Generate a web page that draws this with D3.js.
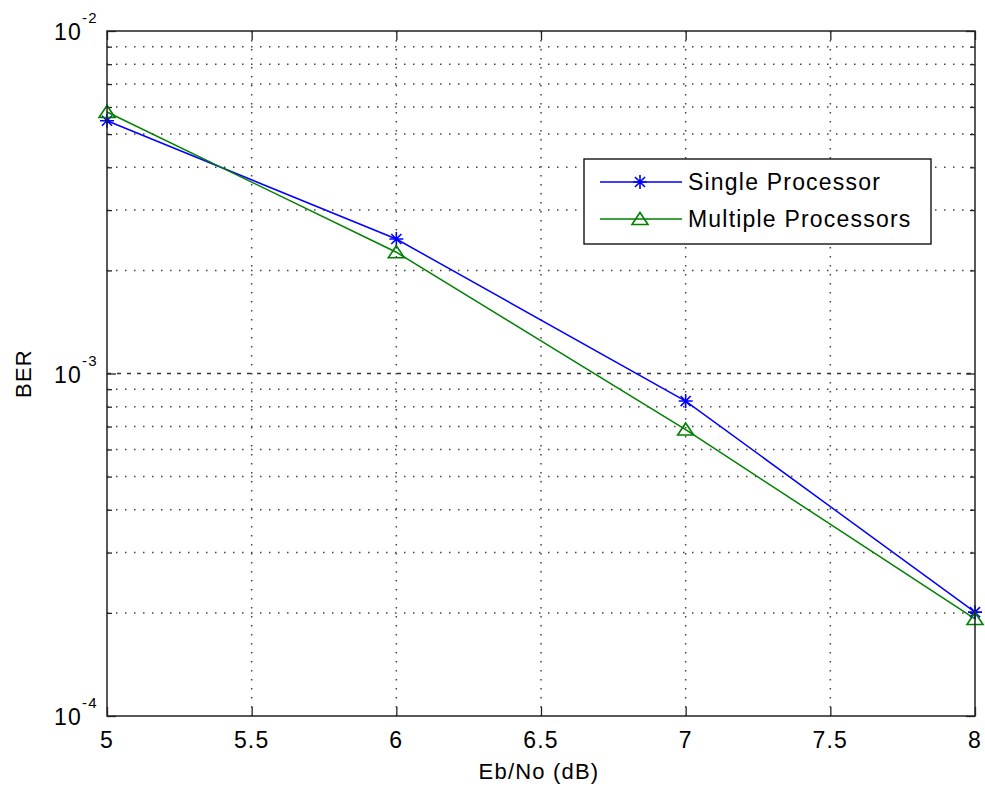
<!DOCTYPE html>
<html>
<head>
<meta charset="utf-8">
<script src="https://cdn.jsdelivr.net/npm/d3@7"></script>
<style>
  html, body { margin: 0; padding: 0; background: #fff; }
  text { font-family: "Liberation Sans", Arial, Helvetica, sans-serif; fill: #000; letter-spacing: 1.2px; }
</style>
</head>
<body>
<svg id="chart" width="985" height="787"></svg>
<script>
// ---- data ----
const ebno = [5, 6, 7, 8];
const berSingle = [5.47e-3, 2.47e-3, 8.31e-4, 2.01e-4];
const berMultiple = [5.80e-3, 2.26e-3, 6.86e-4, 1.92e-4];
const xTicks = [5, 5.5, 6, 6.5, 7, 7.5, 8];
const yMajor = [1e-4, 1e-3, 1e-2];
const yExponents = ["-4", "-3", "-2"];
const yMinor = [2e-4,3e-4,4e-4,5e-4,6e-4,7e-4,8e-4,9e-4,2e-3,3e-3,4e-3,5e-3,6e-3,7e-3,8e-3,9e-3];
const seriesNames = ["Single Processor", "Multiple Processors"];

// ---- layout ----
const L = 107, T = 31, W = 868, H = 685;
const svg = d3.select("#chart");
svg.append("rect").attr("width", 985).attr("height", 787).attr("fill", "#fff");

const x = d3.scaleLinear().domain([5, 8]).range([L, L + W]);
const y = d3.scaleLog().domain([1e-4, 1e-2]).range([T + H, T]);

const grid = svg.append("g");
grid.selectAll("line.vx").data(xTicks.filter(d => d > 5 && d < 8)).enter().append("line")
  .attr("x1", d => x(d)).attr("x2", d => x(d)).attr("y1", T).attr("y2", T + H)
  .attr("stroke", "#444").attr("stroke-width", 1.5).attr("stroke-dasharray", "1.5,7.5");
grid.selectAll("line.hy").data(yMinor).enter().append("line")
  .attr("x1", L).attr("x2", L + W).attr("y1", d => y(d)).attr("y2", d => y(d))
  .attr("stroke", "#444").attr("stroke-width", 1.5).attr("stroke-dasharray", "1.5,7.5");
grid.selectAll("line.hm").data(yMajor.slice(1, 2)).enter().append("line")
  .attr("x1", L).attr("x2", L + W).attr("y1", d => y(d)).attr("y2", d => y(d))
  .attr("stroke", "#333").attr("stroke-width", 1.5).attr("stroke-dasharray", "4,6");

// ---- axes ticks ----
const tickStyle = g => { g.select(".domain").remove(); g.selectAll(".tick line").attr("stroke", "#222").attr("stroke-width", 1.3); g.selectAll(".tick text").remove(); };
svg.append("g").attr("transform", `translate(0,${T + H})`)
  .call(d3.axisBottom(x).tickValues(xTicks).tickSizeInner(-9).tickSizeOuter(0)).call(tickStyle);
svg.append("g").attr("transform", `translate(0,${T})`)
  .call(d3.axisTop(x).tickValues(xTicks).tickSizeInner(-9).tickSizeOuter(0)).call(tickStyle);
svg.append("g").attr("transform", `translate(${L},0)`)
  .call(d3.axisLeft(y).tickValues(yMajor).tickSizeInner(-9).tickSizeOuter(0)).call(tickStyle);
svg.append("g").attr("transform", `translate(${L},0)`)
  .call(d3.axisLeft(y).tickValues(yMinor).tickSizeInner(-5).tickSizeOuter(0)).call(tickStyle);
svg.append("g").attr("transform", `translate(${L + W},0)`)
  .call(d3.axisRight(y).tickValues(yMajor).tickSizeInner(-9).tickSizeOuter(0)).call(tickStyle);
svg.append("g").attr("transform", `translate(${L + W},0)`)
  .call(d3.axisRight(y).tickValues(yMinor).tickSizeInner(-5).tickSizeOuter(0)).call(tickStyle);

// tick labels
svg.append("g").selectAll("text").data(xTicks).enter().append("text")
  .attr("x", d => x(d)).attr("y", T + H + 32).attr("text-anchor", "middle")
  .attr("font-size", 23).text(d => d3.format("~g")(d));
const yl = svg.append("g").selectAll("g").data(yMajor).enter().append("g")
  .attr("transform", (d) => `translate(0,${y(d)})`);
yl.append("text").attr("x", 82).attr("y", 9).attr("text-anchor", "end").attr("font-size", 23).text("10");
yl.append("text").attr("x", 82).attr("y", -8).attr("font-size", 15).text((d, i) => yExponents[i]);

// axis labels
svg.append("text").attr("x", 539).attr("y", 779).attr("text-anchor", "middle").attr("font-size", 22).text("Eb/No (dB)");
svg.append("text").attr("transform", `translate(31,${T + H / 2}) rotate(-90)`).attr("text-anchor", "middle").attr("font-size", 22).text("BER");

// ---- series ----
const line = d3.line().x((d, i) => x(ebno[i])).y(d => y(d));
const starPath = r => { const a = r * 0.72; return `M${-r},0L${r},0M0,${-r}L0,${r}M${-a},${-a}L${a},${a}M${-a},${a}L${a},${-a}`; };
const triPath = "M0,-6.5L8,5.5L-8,5.5Z";

svg.append("path").datum(berSingle).attr("d", line).attr("fill", "none").attr("stroke", "#0000ff").attr("stroke-width", 1.5);
svg.append("path").datum(berMultiple).attr("d", line).attr("fill", "none").attr("stroke", "#008000").attr("stroke-width", 1.5);
svg.append("g").selectAll("path").data(berSingle).enter().append("path")
  .attr("transform", (d, i) => `translate(${x(ebno[i])},${y(d)})`).attr("d", starPath(7))
  .attr("stroke", "#0000ff").attr("stroke-width", 1.6).attr("fill", "none");
svg.append("g").selectAll("path").data(berMultiple).enter().append("path")
  .attr("transform", (d, i) => `translate(${x(ebno[i])},${y(d)})`).attr("d", triPath)
  .attr("stroke", "#008000").attr("stroke-width", 1.6).attr("fill", "none");

// axes frame
svg.append("rect").attr("x", L).attr("y", T).attr("width", W).attr("height", H)
  .attr("fill", "none").attr("stroke", "#222").attr("stroke-width", 1.5);

// ---- legend ----
const lg = svg.append("g").attr("transform", "translate(584,159)");
lg.append("rect").attr("width", 347).attr("height", 85).attr("fill", "#fff").attr("stroke", "#000").attr("stroke-width", 1.3);
const colors = ["#0000ff", "#008000"];
const rowsY = [23, 60];
seriesNames.forEach((name, i) => {
  const g = lg.append("g").attr("transform", `translate(0,${rowsY[i]})`);
  g.append("line").attr("x1", 16).attr("x2", 98).attr("stroke", colors[i]).attr("stroke-width", 1.5);
  g.append("path").attr("transform", "translate(56,0)").attr("d", i === 0 ? starPath(7) : triPath)
    .attr("stroke", colors[i]).attr("stroke-width", 1.6).attr("fill", "none");
  g.append("text").attr("x", 104).attr("y", 8).attr("font-size", 23).attr("letter-spacing", "1.4px").text(name);
});
</script>
</body>
</html>
